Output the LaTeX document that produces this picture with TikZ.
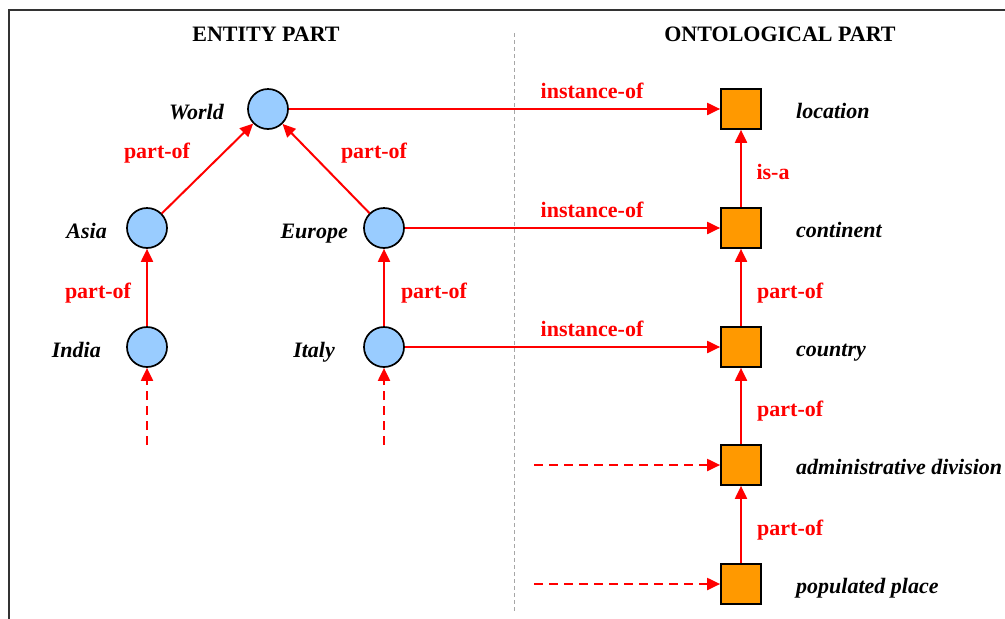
\documentclass[tikz,border=0pt]{standalone}
\usepackage{fontspec}
\setmainfont{Liberation Serif}
\usetikzlibrary{arrows.meta}
\definecolor{entfill}{HTML}{99CCFF}
\definecolor{ontfill}{HTML}{FF9900}
\definecolor{framecol}{HTML}{333333}
\begin{document}
\begin{tikzpicture}[x=1pt,y=-1pt,
  txt/.style={font=\fontsize{22}{24}\selectfont\bfseries\itshape, inner sep=0pt},
  hdr/.style={font=\fontsize{22}{24}\selectfont\bfseries, inner sep=0pt, anchor=base},
  rel/.style={font=\fontsize{22}{24}\selectfont\bfseries, text=red, inner sep=0pt},
  entnode/.style={circle, draw=black, line width=1.7pt, fill=entfill, minimum size=40pt, inner sep=0pt},
  ontnode/.style={rectangle, draw=black, line width=1.7pt, fill=ontfill, minimum size=40pt, inner sep=0pt},
  conn/.style={draw=red, line width=2pt, -{Triangle[length=13pt,width=12pt]}},
  dconn/.style={conn, dash pattern=on 9pt off 6pt}
]
\useasboundingbox (0,0) rectangle (1005,619);
% frame
\draw[framecol, line width=2pt] (9,619) -- (9,10) -- (1005,10);
% divider
\draw[gray!70, line width=1pt, dash pattern=on 4pt off 3pt] (514,33) -- (514,612);
% headers
\node[hdr] (h1) at (266,41) {ENTITY PART};
\node[hdr] (h2) at (780,41) {ONTOLOGICAL PART};
% entity nodes
\node[entnode] (world) at (268,109) {};
\node[entnode] (asia) at (147,228) {};
\node[entnode] (europe) at (384,228) {};
\node[entnode] (india) at (147,347) {};
\node[entnode] (italy) at (384,347) {};
% ontology nodes
\node[ontnode] (location) at (741,109) {};
\node[ontnode] (continent) at (741,228) {};
\node[ontnode] (country) at (741,347) {};
\node[ontnode] (admin) at (741,465) {};
\node[ontnode] (populated) at (741,584) {};
% entity labels
\node[txt, anchor=base east] (lworld) at (224,119) {World};
\node[txt, anchor=base east] (lasia) at (107,238) {Asia};
\node[txt, anchor=base east] (leurope) at (348,238) {Europe};
\node[txt, anchor=base east] (lindia) at (101,357) {India};
\node[txt, anchor=base east] (litaly) at (335,357) {Italy};
% ontology labels
\node[txt, anchor=base west] (llocation) at (796,118) {location};
\node[txt, anchor=base west] (lcontinent) at (796,237) {continent};
\node[txt, anchor=base west] (lcountry) at (796,356) {country};
\node[txt, anchor=base west] (ladmin) at (796,474) {administrative division};
\node[txt, anchor=base west] (lpop) at (796,593) {populated place};
% free ends
\coordinate (indiain) at (147,445);
\coordinate (italyin) at (384,445);
\coordinate (adminin) at (534,465);
\coordinate (popin) at (534,584);
% connectors
\draw[conn] (asia) -- (world);
\draw[conn] (europe) -- (world);
\draw[conn] (india) -- (asia);
\draw[conn] (italy) -- (europe);
\draw[conn] (world) -- (location);
\draw[conn] (europe) -- (continent);
\draw[conn] (italy) -- (country);
\draw[conn] (continent) -- (location);
\draw[conn] (country) -- (continent);
\draw[conn] (admin) -- (country);
\draw[conn] (populated) -- (admin);
\draw[dconn] (indiain) -- (india);
\draw[dconn] (italyin) -- (italy);
\draw[dconn] (adminin) -- (admin);
\draw[dconn] (popin) -- (populated);
% relation labels
\node[rel, anchor=base] (r1) at (157,158) {part-of};
\node[rel, anchor=base] (r2) at (374,158) {part-of};
\node[rel, anchor=base] (r3) at (98,298) {part-of};
\node[rel, anchor=base] (r4) at (434,298) {part-of};
\node[rel, anchor=base] (r5) at (592,98) {instance-of};
\node[rel, anchor=base] (r6) at (592,217) {instance-of};
\node[rel, anchor=base] (r7) at (592,336) {instance-of};
\node[rel, anchor=base] (r8) at (773,179) {is-a};
\node[rel, anchor=base west] (r9) at (757,298) {part-of};
\node[rel, anchor=base west] (r10) at (757,416) {part-of};
\node[rel, anchor=base west] (r11) at (757,535) {part-of};
\end{tikzpicture}
\end{document}
